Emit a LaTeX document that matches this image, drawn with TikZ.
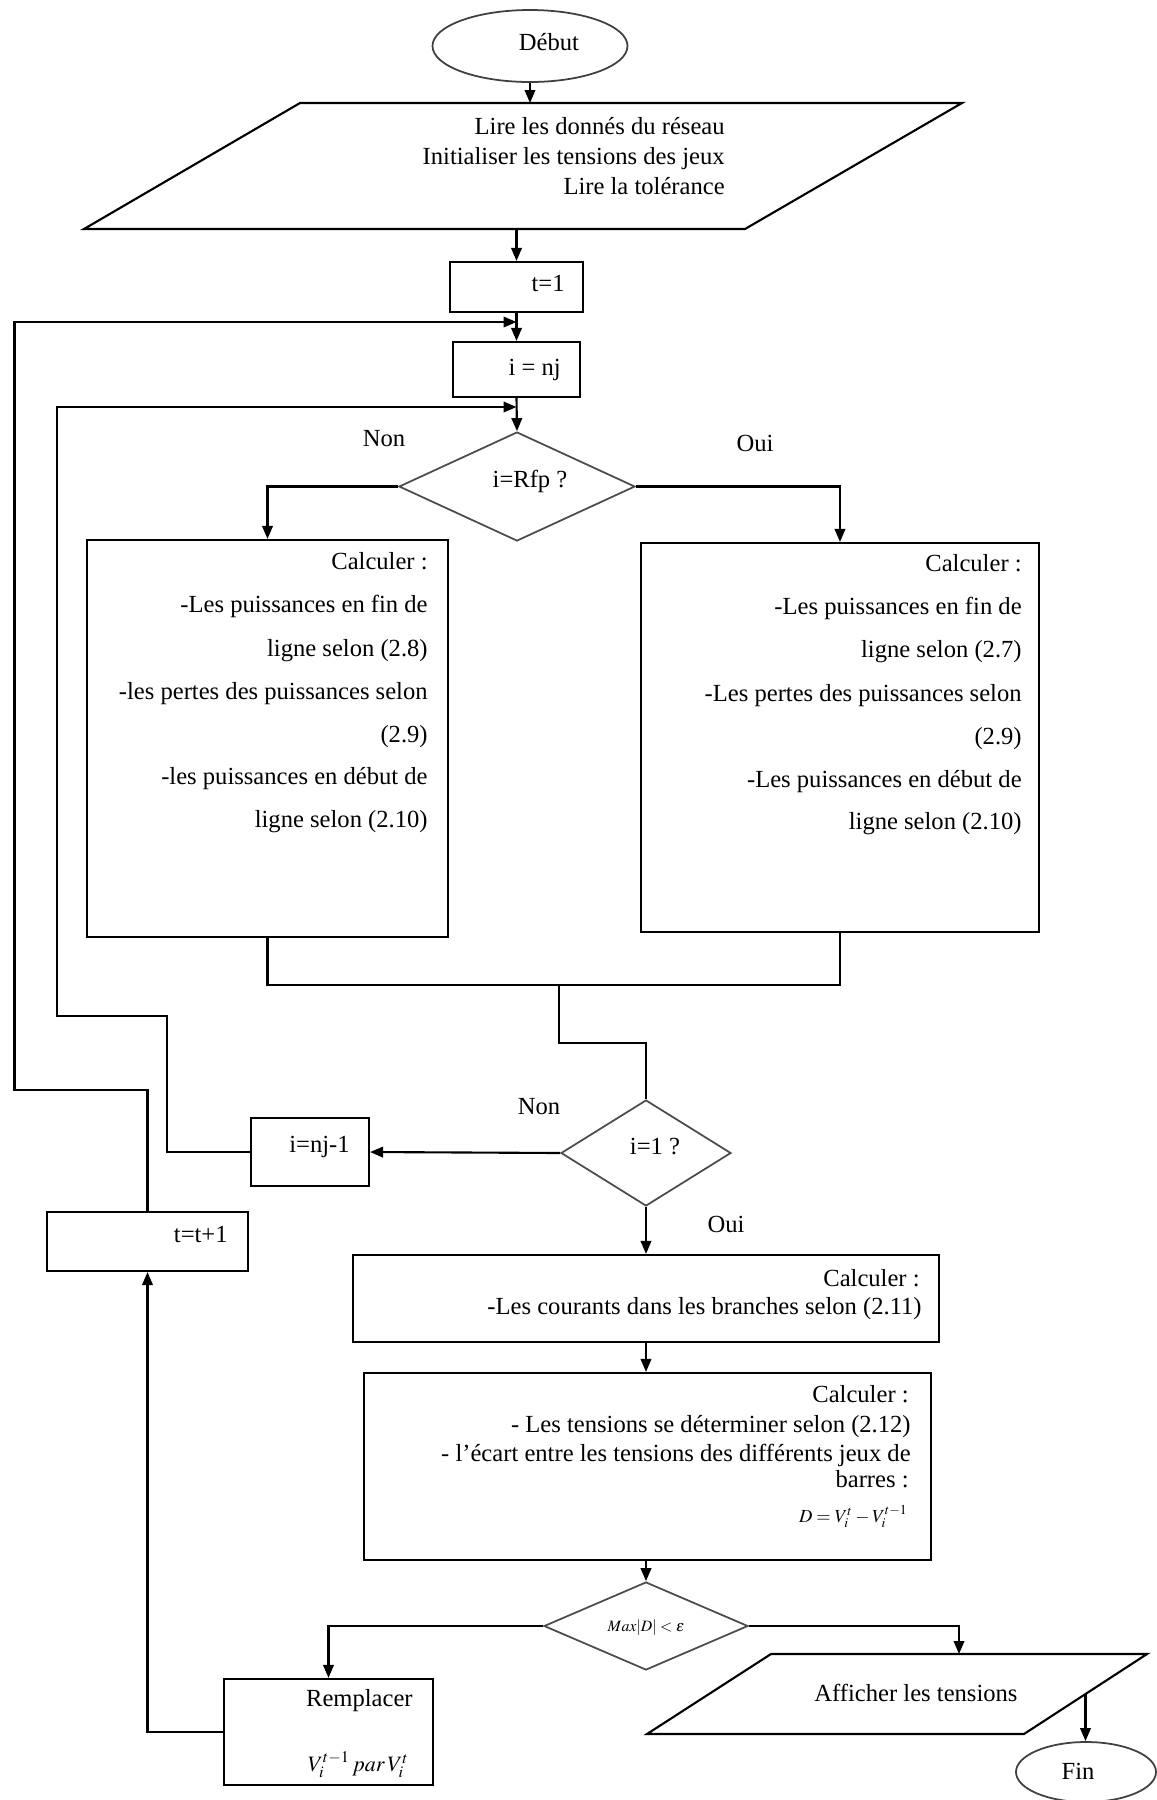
\documentclass[tikz,border=0pt]{standalone}
\usepackage{mathptmx}
\usepackage{fontspec}
\setmainfont{Liberation Serif}
\usetikzlibrary{shapes.geometric,arrows.meta}

\tikzset{
  boxsize/.style 2 args={minimum width=#1*0.02cm, minimum height=#2*0.02cm},
  line/.style={line width=1.2pt, draw=black},
  arr/.style={line, -{Triangle[length=0.26cm,width=0.21cm]}},
  procbox/.style={draw=black, line width=1.2pt, rectangle, inner sep=0pt},
  decision/.style={draw=black!70, line width=1pt, diamond, inner sep=0pt},
  terminal/.style={draw=black!75, line width=1pt, ellipse, inner sep=0pt},
  io/.style={draw=black, line width=1.2pt, line join=miter},
  txt/.style={inner sep=0pt, font=\fontsize{14}{17}\selectfont},
  small/.style={inner sep=0pt, font=\fontsize{9}{11}\selectfont},
}

\begin{document}
\begin{tikzpicture}[x=0.02cm, y=-0.02cm]
\useasboundingbox (0,0) rectangle (1157,1800);
\fill[white] (0,0) rectangle (1157,1800);

% ---------- shapes ----------
\node[terminal, boxsize={195}{72}] (debut) at (530,46) {};
% input parallelogram
\draw[io] (300,103) -- (962,103) -- (745,229) -- (84,229) -- cycle;
\coordinate (lire-n) at (530,103);
\coordinate (lire-s) at (516.5,229);
\node[procbox, boxsize={133}{50}] (t1) at (516.5,287) {};
\node[procbox, boxsize={127}{55}] (inj) at (516.5,369.5) {};
\node[decision, boxsize={236}{109}] (rfp) at (517,486.5) {};
\node[procbox, boxsize={361}{397}] (lbox) at (267.5,738.5) {};
\node[procbox, boxsize={398}{389}] (rbox) at (840,737.5) {};
\node[decision, boxsize={170}{106}] (i1) at (646,1153) {};
\node[procbox, boxsize={118}{68}] (inm1) at (310,1152) {};
\node[procbox, boxsize={201}{59}] (tp1) at (147.5,1241.5) {};
\node[procbox, boxsize={586}{87}] (cour) at (646,1298.5) {};
\node[procbox, boxsize={567}{187}] (calc2) at (647.5,1466.5) {};
\node[decision, boxsize={204}{88}] (maxd) at (646,1626) {};
\node[procbox, boxsize={209}{106}] (rempl) at (328.5,1732) {};
% output parallelogram
\draw[io] (771,1654) -- (1147,1654) -- (1024,1734) -- (647,1734) -- cycle;
\coordinate (aff-n) at (959,1654);
\coordinate (aff-e) at (1085.5,1694);
\node[terminal, boxsize={140}{60}] (fin) at (1086,1772) {};

% ---------- texts ----------
\node[txt, anchor=mid] (debut-t) at (549,46) {Début};
\node[txt, anchor=mid east] (lire-1) at (725,130) {Lire les donnés du réseau};
\node[txt, anchor=mid east] (lire-2) at (725,160) {Initialiser les tensions des jeux};
\node[txt, anchor=mid east] (lire-3) at (725,190) {Lire la tolérance};
\node[txt, anchor=mid east] (t1-t) at (565,287) {t=1};
\node[txt, anchor=mid east] (inj-t) at (561,371) {i = nj};
\node[txt, anchor=mid] (rfp-t) at (530,483) {i=Rfp ?};
\node[txt, anchor=mid] (non1) at (384,442) {Non};
\node[txt, anchor=mid] (oui1) at (755,447) {Oui};

\node[txt, anchor=mid east] (lbox-1) at (428,565) {Calculer :};
\node[txt, anchor=mid east] (lbox-2) at (428,608) {-Les puissances en fin de};
\node[txt, anchor=mid east] (lbox-3) at (428,652) {ligne selon (2.8)};
\node[txt, anchor=mid east] (lbox-4) at (428,695) {-les pertes des puissances selon};
\node[txt, anchor=mid east] (lbox-5) at (428,738) {(2.9)};
\node[txt, anchor=mid east] (lbox-6) at (428,780) {-les puissances en début de};
\node[txt, anchor=mid east] (lbox-7) at (428,823) {ligne selon (2.10)};

\node[txt, anchor=mid east] (rbox-1) at (1022,567) {Calculer :};
\node[txt, anchor=mid east] (rbox-2) at (1022,610) {-Les puissances en fin de};
\node[txt, anchor=mid east] (rbox-3) at (1022,653) {ligne selon (2.7)};
\node[txt, anchor=mid east] (rbox-4) at (1022,697) {-Les pertes des puissances selon};
\node[txt, anchor=mid east] (rbox-5) at (1022,740) {(2.9)};
\node[txt, anchor=mid east] (rbox-6) at (1022,783) {-Les puissances en début de};
\node[txt, anchor=mid east] (rbox-7) at (1022,825) {ligne selon (2.10)};

\node[txt, anchor=mid] (i1-t) at (655,1150) {i=1 ?};
\node[txt, anchor=mid] (non2) at (539,1110) {Non};
\node[txt, anchor=mid] (oui2) at (726,1228) {Oui};
\node[txt, anchor=mid east] (inm1-t) at (350,1148) {i=nj-1};
\node[txt, anchor=mid east] (tp1-t) at (228,1238) {t=t+1};

\node[txt, anchor=mid east] (cour-1) at (920,1282) {Calculer :};
\node[txt, anchor=mid east] (cour-2) at (922,1310) {-Les courants dans les branches selon (2.11)};

\node[txt, anchor=mid east] (calc2-1) at (909,1398) {Calculer :};
\node[txt, anchor=mid east] (calc2-2) at (911,1428) {- Les tensions se déterminer selon (2.12)};
\node[txt, anchor=mid east] (calc2-3) at (911,1457) {- l'écart entre les tensions des différents jeux de};
\node[txt, anchor=mid east] (calc2-4) at (909,1483) {barres :};
\node[inner sep=0pt, font=\fontsize{10.5}{12}\selectfont, anchor=mid east] (calc2-5) at (908,1518) {$D=V_i^{t}-V_i^{t-1}$};

\node[small, anchor=mid] (maxd-t) at (646,1627) {$Max|D|<\varepsilon$};
\node[txt, anchor=mid east] (rempl-1) at (413,1702) {Remplacer};
\node[inner sep=0pt, font=\fontsize{12.5}{14}\selectfont, anchor=mid east] (rempl-2) at (409,1767) {$V_i^{t-1}\,par\,V_i^{t}$};
\node[txt, anchor=mid] (aff-t) at (916,1697) {Afficher les tensions};
\node[txt, anchor=mid] (fin-t) at (1078,1775) {Fin};

% ---------- connectors ----------
\coordinate (jn1) at (516.5,322);
\coordinate (jn2) at (516.5,407);
\coordinate (mrg) at (559,985);
\coordinate (mrg2) at (559,1043);
\coordinate (loopA) at (14.5,1090);
\coordinate (loopB) at (167,1016);
\coordinate (loopC) at (57,407);

\draw[arr] (debut.south) -- (lire-n);
\draw[arr] (lire-s) -- (t1.north);
\draw[arr] (t1.south) -- (inj.north);
\draw[arr] (inj.south) -- (rfp.north);
\draw[arr] (rfp.west) -| (lbox.north);
\draw[arr] (rfp.east) -| (rbox.north);
\draw[line] (lbox.south) |- (rbox.south |- mrg) -- (rbox.south);
\draw[line] (mrg) -- (mrg2) -| (i1.north);
\draw[arr] (i1.west) -- (inm1.east);
\draw[arr] (inm1.west) -| (loopB) -| (loopC) -- (jn2);
\draw[arr] (tp1.north) |- (loopA) |- (jn1);
\draw[arr] (i1.south) -- (cour.north);
\draw[arr] (cour.south) -- (cour.south |- calc2.north);
\draw[arr] (cour.south |- calc2.south) -- (maxd.north);
\draw[arr] (maxd.west) -| (rempl.north);
\draw[arr] (maxd.east) -| (aff-n);
\draw[arr] (aff-e) -- (aff-e |- fin.north);
\draw[arr] (rempl.west) -| (tp1.south);
\end{tikzpicture}
\end{document}
